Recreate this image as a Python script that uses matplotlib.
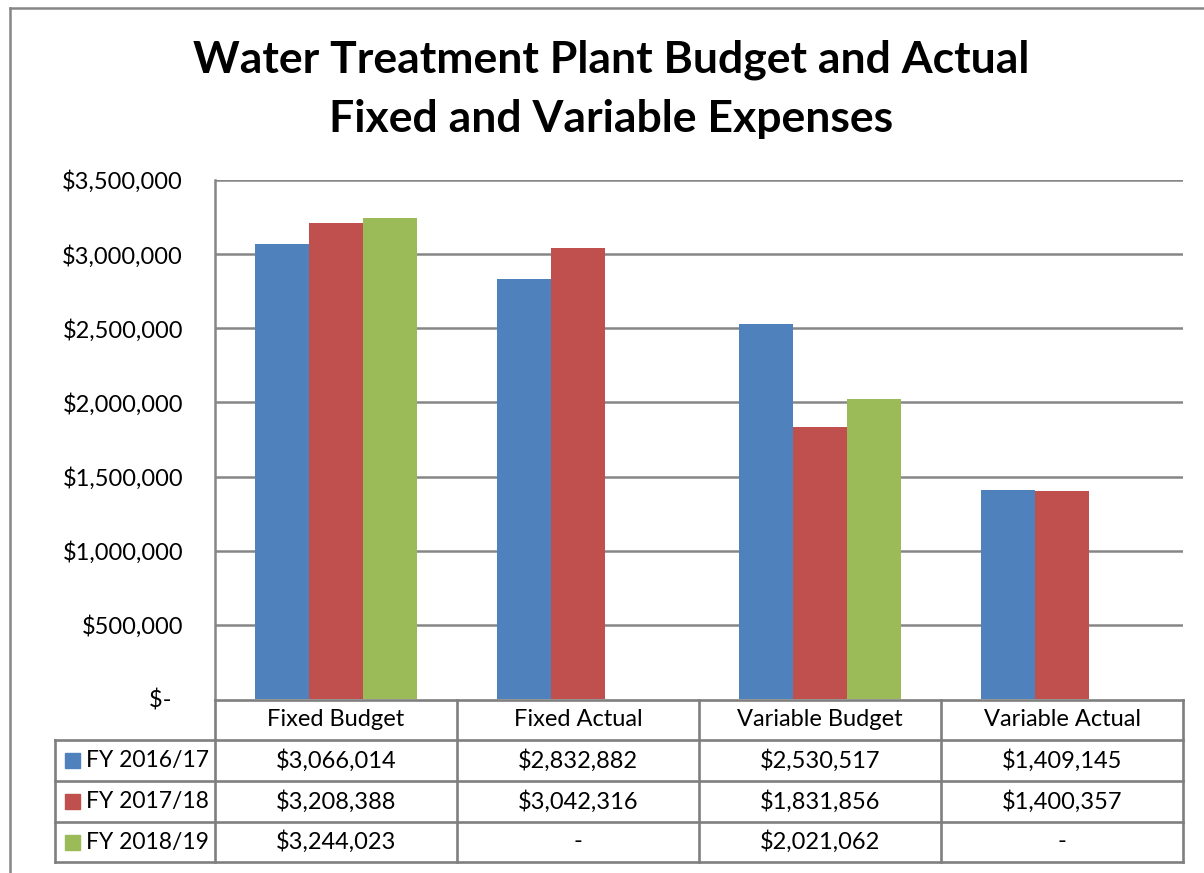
import matplotlib
matplotlib.use("Agg")
import matplotlib.pyplot as plt
from matplotlib.lines import Line2D
from matplotlib.patches import Rectangle
import numpy as np

plt.rcParams['font.family'] = ['Lato', 'DejaVu Sans']

categories = ["Fixed Budget", "Fixed Actual", "Variable Budget", "Variable Actual"]
series_names = ["FY 2016/17", "FY 2017/18", "FY 2018/19"]
fy1617 = [3066014, 2832882, 2530517, 1409145]
fy1718 = [3208388, 3042316, 1831856, 1400357]
fy1819 = [3244023, None, 2021062, None]
series = [fy1617, fy1718, fy1819]
colors = ["#4F81BD", "#C0504D", "#9BBB59"]
yticks = [0, 500000, 1000000, 1500000, 2000000, 2500000, 3000000, 3500000]

W, H = 1204, 873
fig = plt.figure(figsize=(W / 100, H / 100), dpi=100)

def fx(px):
    return px / W

def fy(py):
    return 1 - py / H

ax_l, ax_r, ax_t, ax_b = 215, 1183, 180, 699
ax = fig.add_axes([fx(ax_l), fy(ax_b), fx(ax_r - ax_l), fy(ax_t) - fy(ax_b)])

grid_c = "#868686"
bw = 54 / 242
for k, (vals, col) in enumerate(zip(series, colors)):
    xs = [i + 0.5 + (k - 1) * bw for i, v in enumerate(vals) if v is not None]
    ys = [v for v in vals if v is not None]
    ax.bar(xs, ys, width=bw, color=col, zorder=3, edgecolor='none')

ax.set_xlim(0, 4)
ax.set_ylim(0, 3500000)
ax.set_yticks(yticks)

def fmt(v):
    return "$-  " if v == 0 else "${:,.0f}".format(v)

ax.set_yticklabels([fmt(v) for v in yticks], fontsize=17)
ax.tick_params(axis='y', length=0, pad=23)
ax.tick_params(axis='x', length=0, labelbottom=False)
for y in yticks[1:]:
    ax.axhline(y, color=grid_c, lw=1.8, zorder=1)
for s in ['top', 'right', 'bottom']:
    ax.spines[s].set_visible(False)
ax.spines['left'].set_color(grid_c)
ax.spines['left'].set_linewidth(1.8)

# Title
fig.text(fx(611), fy(60), "Water Treatment Plant Budget and Actual", ha='center', va='center',
         fontsize=32, fontweight='bold')
fig.text(fx(611), fy(119), "Fixed and Variable Expenses", ha='center', va='center',
         fontsize=32, fontweight='bold')

# Outer chart border
fig.add_artist(Line2D([fx(10), fx(10)], [fy(8), fy(880)], color=grid_c, lw=1.8))
fig.add_artist(Line2D([fx(10), fx(1210)], [fy(8), fy(8)], color=grid_c, lw=1.8))

# Data table
col_x = [ax_l + (ax_r - ax_l) * i / 4 for i in range(5)]
row_y = [700, 740, 781, 822, 862]
leg_l = 55
tc = "#7f7f7f"
lw = 1.9
fig.add_artist(Line2D([fx(col_x[0]), fx(col_x[-1])], [fy(row_y[0])] * 2, color=tc, lw=lw))
for y in row_y[1:]:
    fig.add_artist(Line2D([fx(leg_l), fx(col_x[-1])], [fy(y)] * 2, color=tc, lw=lw))
fig.add_artist(Line2D([fx(leg_l)] * 2, [fy(row_y[1]), fy(row_y[-1])], color=tc, lw=lw))
for x in col_x:
    fig.add_artist(Line2D([fx(x)] * 2, [fy(row_y[0]), fy(row_y[-1])], color=tc, lw=lw))

for i, cat in enumerate(categories):
    cx = (col_x[i] + col_x[i + 1]) / 2
    fig.text(fx(cx), fy((row_y[0] + row_y[1]) / 2), cat, ha='center', va='center', fontsize=17)
    for r, vals in enumerate(series):
        v = vals[i]
        txt = "-" if v is None else "${:,.0f}".format(v)
        fig.text(fx(cx), fy((row_y[r + 1] + row_y[r + 2]) / 2), txt, ha='center', va='center',
                 fontsize=17)

for r, (name, col) in enumerate(zip(series_names, colors)):
    cy = (row_y[r + 1] + row_y[r + 2]) / 2
    fig.add_artist(Rectangle((fx(65), fy(cy + 7.5)), fx(15), fy(0) - fy(15), color=col,
                             transform=fig.transFigure))
    fig.text(fx(86), fy(cy), name, ha='left', va='center', fontsize=16.5)

fig.savefig("out.png", dpi=100)
